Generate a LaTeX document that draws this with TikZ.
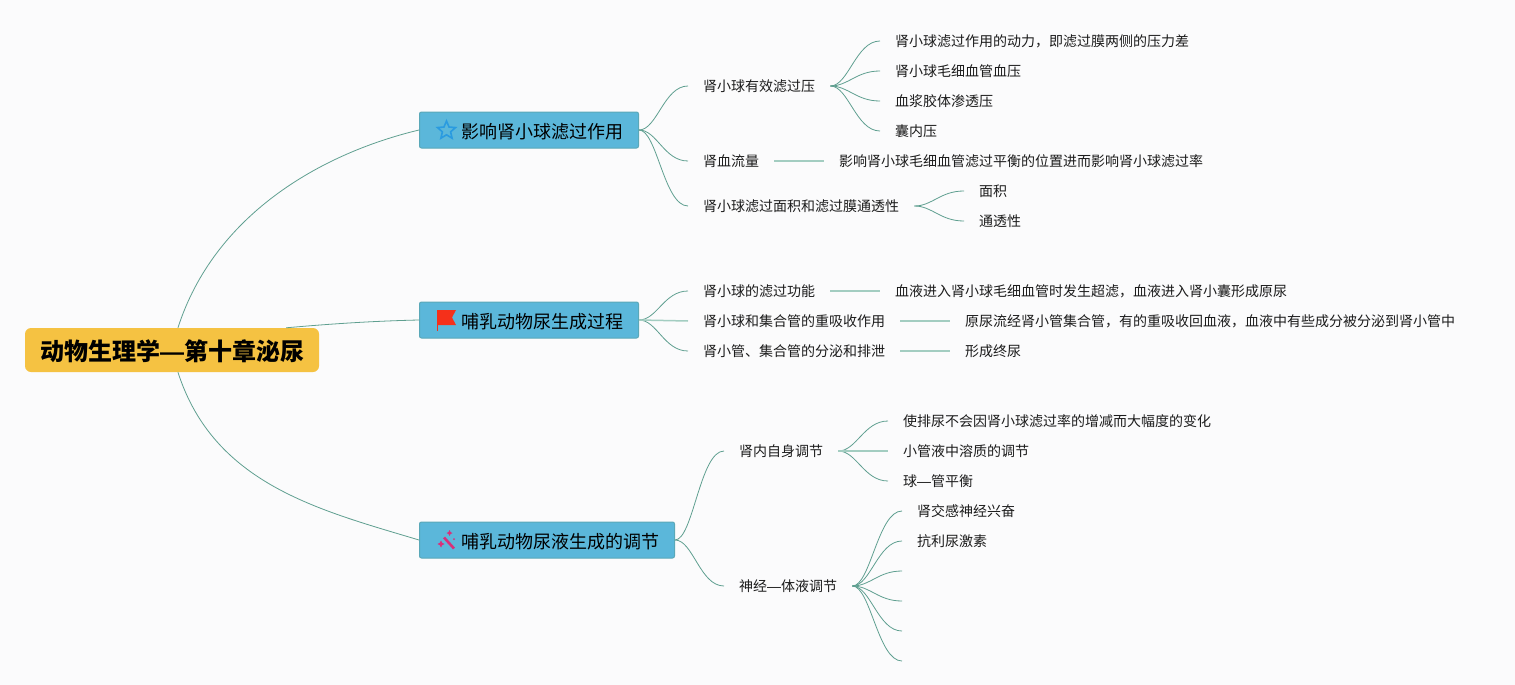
\documentclass[tikz,border=0pt]{standalone}
\usepackage{fontspec}
\setmainfont{Noto Sans CJK SC}
\newfontfamily\dashfont{Liberation Sans}
\newcommand{\longdash}{{\dashfont —}}
\usetikzlibrary{shapes.geometric}
\definecolor{bgc}{HTML}{FBFBFC}
\definecolor{linec}{HTML}{5F9F90}
\definecolor{straightc}{HTML}{A3CDC1}
\definecolor{branchc}{HTML}{5BB7DA}
\definecolor{branchb}{HTML}{5AA8B8}
\definecolor{rootc}{HTML}{F5C242}
\definecolor{txtc}{HTML}{1C1C1C}
\definecolor{starc}{HTML}{2A9BE0}
\definecolor{flagc}{HTML}{F5301A}
\definecolor{wandc}{HTML}{D8307A}
\tikzset{
  x=1pt,y=-1pt,
  rootbox/.style={fill=rootc,rounded corners=6pt,minimum width=294pt,minimum height=44pt,inner sep=0pt,font=\fontsize{24}{28}\selectfont\bfseries,text=black,text height=21.2pt,text depth=0pt},
  branchbox/.style={fill=branchc,draw=branchb,line width=1pt,rounded corners=2pt,minimum height=36pt,inner sep=0pt,font=\fontsize{18}{22}\selectfont,text=black,anchor=west,text height=16.7pt,text depth=0pt},
  leaf/.style={anchor=west,xshift=-1pt,inner xsep=15pt,inner ysep=0pt,font=\fontsize{14}{17}\selectfont,text=txtc,text height=11.3pt,text depth=0pt},
  conn/.style={draw=linec,line width=.8pt,to path={.. controls ([xshift=18pt]\tikztostart) and ([xshift=-24pt]\tikztotarget) .. (\tikztotarget) \tikztonodes}},
  flat/.style={draw=straightc,line width=1.5pt},
  bigconn/.style={draw=linec,line width=.8pt}
}
\begin{document}
\begin{tikzpicture}
\useasboundingbox[fill=bgc] (0,0) rectangle (1515,685);
% root and branches
\node[rootbox] (root) at (172,350) {动物生理学\longdash 第十章泌尿};
\node[branchbox] (b1) at (419,130) {\makebox[219pt][l]{\hspace{42pt}影响肾小球滤过作用}};
\node[branchbox] (b2) at (419,320) {\makebox[219pt][l]{\hspace{42pt}哺乳动物尿生成过程}};
\node[branchbox] (b3) at (419,540) {\makebox[255pt][l]{\hspace{42pt}哺乳动物尿液生成的调节}};
% icons
\node[star,star points=5,star point ratio=2.2,draw=starc,line width=1.6pt,minimum size=19pt,inner sep=0pt] (staricon) at (446.5,130.5) {};
\fill[flagc] (438,310) -- (456,310) -- (452,317.5) -- (456,325) -- (438,325) -- cycle;
\draw[flagc,line width=.8pt] (437.5,310) -- (437.5,331);
\draw[wandc,line width=2.6pt] (444,537.5) -- (454,548.5);
\fill[wandc] (441,540.5) -- (442.2,542.8) -- (444.5,544) -- (442.2,545.2) -- (441,547.5) -- (439.8,545.2) -- (437.5,544) -- (439.8,542.8) -- cycle;
\fill[wandc] (449.5,530) -- (450.5,532) -- (452.5,533) -- (450.5,534) -- (449.5,536) -- (448.5,534) -- (446.5,533) -- (448.5,532) -- cycle;
\fill[wandc] (454,539) circle (1pt);
% level two, branch one
\node[leaf] (a1) at (689,86) {肾小球有效滤过压};
\node[leaf] (a2) at (689,161) {肾血流量};
\node[leaf] (a3) at (689,206) {肾小球滤过面积和滤过膜通透性};
\node[leaf] (a11) at (881,41) {肾小球滤过作用的动力，即滤过膜两侧的压力差};
\node[leaf] (a12) at (881,71) {肾小球毛细血管血压};
\node[leaf] (a13) at (881,101) {血浆胶体渗透压};
\node[leaf] (a14) at (881,131) {囊内压};
\node[leaf] (a21) at (825,161) {影响肾小球毛细血管滤过平衡的位置进而影响肾小球滤过率};
\node[leaf] (a31) at (965,191) {面积};
\node[leaf] (a32) at (965,221) {通透性};
% branch two
\node[leaf] (c1) at (689,291) {肾小球的滤过功能};
\node[leaf] (c2) at (689,321) {肾小球和集合管的重吸收作用};
\node[leaf] (c3) at (689,351) {肾小管、集合管的分泌和排泄};
\node[leaf] (c11) at (881,291) {血液进入肾小球毛细血管时发生超滤，血液进入肾小囊形成原尿};
\node[leaf] (c21) at (951,321) {原尿流经肾小管集合管，有的重吸收回血液，血液中有些成分被分泌到肾小管中};
\node[leaf] (c31) at (951,351) {形成终尿};
% branch three
\node[leaf] (d1) at (725,451) {肾内自身调节};
\node[leaf] (d2) at (725,586) {神经\longdash 体液调节};
\node[leaf] (d11) at (889,421) {使排尿不会因肾小球滤过率的增减而大幅度的变化};
\node[leaf] (d12) at (889,451) {小管液中溶质的调节};
\node[leaf] (d13) at (889,481) {球\longdash 管平衡};
\node[leaf] (d21) at (903,511) {肾交感神经兴奋};
\node[leaf] (d22) at (903,541) {抗利尿激素};
\coordinate (d23) at (902,571);
\coordinate (d24) at (902,601);
\coordinate (d25) at (902,631);
\coordinate (d26) at (902,661);
% connectors from the root
\draw[bigconn] (root.75) .. controls +(36,-112) and +(-100,24) .. (b1.west);
\draw[bigconn] (root.11) .. controls +(45,-4) and +(-45,1) .. (b2.west);
\draw[bigconn] (root.-75) .. controls +(36,112) and +(-100,-30) .. (b3.west);
% connectors between levels
\foreach \p/\c in {b1/a1,b1/a2,b1/a3,b2/c1,b2/c3,b3/d1,b3/d2,a1/a11,a1/a12,a1/a13,a1/a14,a3/a31,a3/a32,d1/d11,d1/d13,d2/d21,d2/d22}
  \draw[conn] (\p.east) to (\c.west);
\foreach \c in {d23,d24,d25,d26}
  \draw[conn] (d2.east) to (\c);
\draw[flat] (b2.east) -- (c2.west);
\draw[flat] (d1.east) -- (d12.west);
\draw[flat] (a2.east) -- (a21.west);
\draw[flat] (c1.east) -- (c11.west);
\draw[flat] (c2.east) -- (c21.west);
\draw[flat] (c3.east) -- (c31.west);
\end{tikzpicture}
\end{document}
